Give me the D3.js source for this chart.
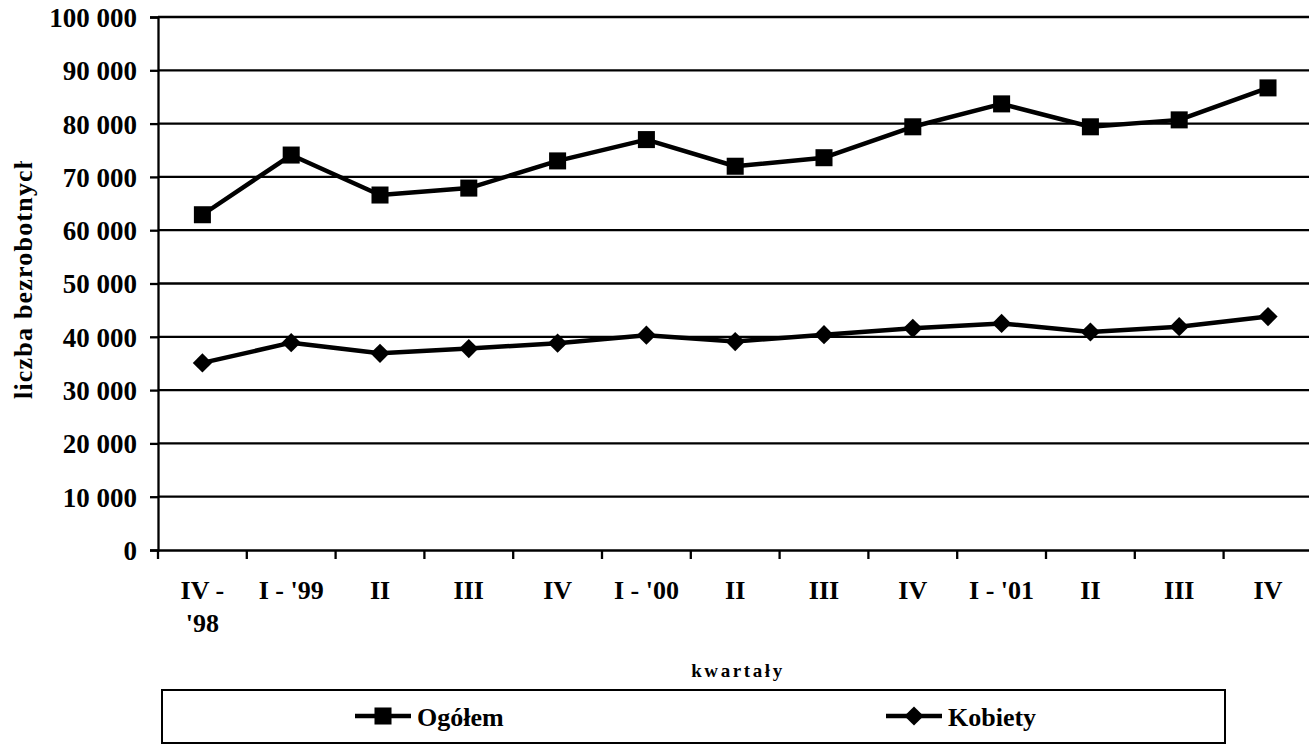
<!DOCTYPE html>
<html><head><meta charset="utf-8">
<script src="https://cdn.jsdelivr.net/npm/d3@7"></script>
<style>
body{margin:0;background:#fff;}
svg text{font-family:"Liberation Serif","Times New Roman",Times,serif !important;font-weight:bold;fill:#000;}
</style></head>
<body><svg id="c" width="1309" height="745"></svg>
<script>
const categories = ["IV - '98","I - '99","II","III","IV","I - '00","II","III","IV","I - '01","II","III","IV"];
const ogolem  = [62900, 74100, 66600, 67900, 73000, 77000, 72000, 73600, 79400, 83700, 79400, 80700, 86700];
const kobiety = [35100, 38900, 36900, 37800, 38800, 40300, 39100, 40400, 41600, 42500, 40900, 41900, 43800];
const yTicks = [0,10000,20000,30000,40000,50000,60000,70000,80000,90000,100000];
const seriesNames = ["Ogółem","Kobiety"];
const yTitle = "liczba bezrobotnych";
const xTitle = "kwartały";

const svg = d3.select("#c");
const x0 = 158, band = 88.8;
const x = d3.scaleBand().domain(d3.range(categories.length)).range([x0, x0 + band*categories.length]).padding(0);
const y = d3.scaleLinear().domain([0,100000]).range([550,17]);
const fmt = v => d3.format(",")(v).replace(/,/g," ");

// gridlines
svg.append("g").selectAll("line").data(yTicks.filter(d=>d>0)).join("line")
  .attr("x1",x0).attr("x2",1309).attr("y1",d=>y(d)).attr("y2",d=>y(d))
  .attr("stroke","#000").attr("stroke-width",2.3);

// y axis
const yAx = svg.append("g").attr("transform",`translate(${x0},0)`)
  .call(d3.axisLeft(y).tickValues(yTicks).tickFormat(fmt).tickSize(8).tickPadding(13));
yAx.attr("font-family",null).attr("font-size",null);
yAx.select(".domain").attr("stroke","#000").attr("stroke-width",2.3);
yAx.selectAll(".tick line").attr("stroke","#000").attr("stroke-width",2.3);
yAx.selectAll(".tick text").style("font-size","27px").attr("dy","0.35em");

// x axis
const xAx = svg.append("g").attr("transform","translate(0,550)")
  .call(d3.axisBottom(x).tickValues([]).tickSizeOuter(0));
xAx.select(".domain").attr("stroke","#000").attr("stroke-width",2.3);
svg.append("g").selectAll("line").data(d3.range(categories.length)).join("line")
  .attr("x1",d=>x(d)).attr("x2",d=>x(d)).attr("y1",550).attr("y2",559)
  .attr("stroke","#000").attr("stroke-width",2.3);

// x labels with wrap
const lab = svg.append("g").selectAll("text").data(categories).join("text")
  .attr("text-anchor","middle").style("font-size","26px")
  .attr("x",(d,i)=>x(i)+x.bandwidth()/2).attr("y",599);
lab.each(function(d){
  const t = d3.select(this);
  t.text(d);
  if (this.getComputedTextLength() > 76) {
    const parts = d.split(" ");
    const first = parts.slice(0,2).join(" "), second = parts.slice(2).join(" ");
    t.text(null);
    t.append("tspan").attr("x",t.attr("x")).text(first);
    t.append("tspan").attr("x",t.attr("x")).attr("dy",33).text(second);
  }
});

// lines
const line = d3.line().x((d,i)=>x(i)+x.bandwidth()/2).y(d=>y(d));
[ogolem,kobiety].forEach(s=>{
  svg.append("path").datum(s).attr("d",line).attr("fill","none")
    .attr("stroke","#000").attr("stroke-width",4.5).attr("stroke-linejoin","round");
});
const sq = d3.symbol().type(d3.symbolSquare).size(290);
const dm = d3.symbol().type(d3.symbolSquare).size(185);
svg.append("g").selectAll("path").data(ogolem).join("path")
  .attr("d",sq).attr("transform",(d,i)=>`translate(${x(i)+x.bandwidth()/2},${y(d)})`).attr("fill","#000");
svg.append("g").selectAll("path").data(kobiety).join("path")
  .attr("d",dm).attr("transform",(d,i)=>`translate(${x(i)+x.bandwidth()/2},${y(d)}) rotate(45)`).attr("fill","#000");

// y title (clipped at top like reference)
svg.append("clipPath").attr("id","yclip").append("rect").attr("x",0).attr("y",161).attr("width",60).attr("height",300);
svg.append("g").attr("clip-path","url(#yclip)").append("text")
  .attr("transform","translate(32,399) rotate(-90)")
  .attr("text-anchor","start").style("font-size","26px").style("letter-spacing","1.2px").text(yTitle);

// x title
svg.append("text").attr("x",738).attr("y",677).attr("text-anchor","middle")
  .style("font-size","19px").style("letter-spacing","2.6px").text(xTitle);

// legend
svg.append("rect").attr("x",162).attr("y",690).attr("width",1063).attr("height",53)
  .attr("fill","#fff").attr("stroke","#000").attr("stroke-width",2);
const leg = [{name:seriesNames[0],sym:sq,lx:355,rot:0},{name:seriesNames[1],sym:dm,lx:886,rot:45}];
leg.forEach(l=>{
  const g = svg.append("g");
  g.append("line").attr("x1",l.lx).attr("x2",l.lx+56).attr("y1",716).attr("y2",716)
    .attr("stroke","#000").attr("stroke-width",4.5);
  g.append("path").attr("d",l.sym).attr("transform",`translate(${l.lx+28},716) rotate(${l.rot})`).attr("fill","#000");
  g.append("text").attr("x",l.lx+62).attr("y",726).style("font-size","26px").text(l.name);
});
</script></body></html>
